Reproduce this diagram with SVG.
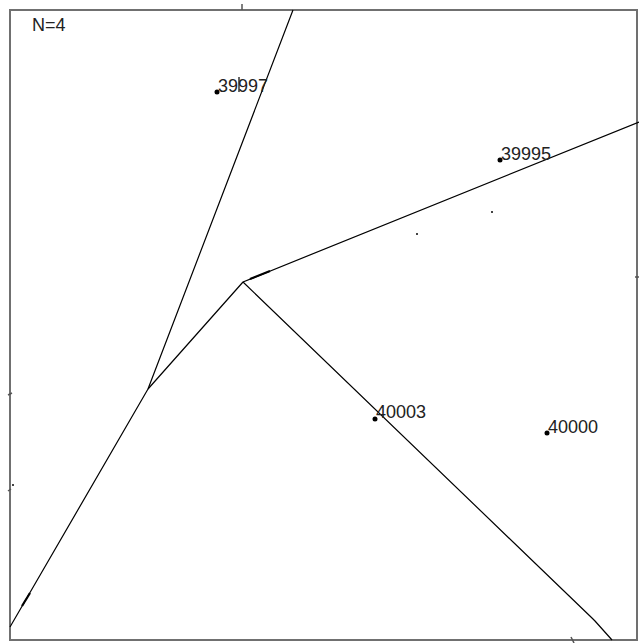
<svg xmlns="http://www.w3.org/2000/svg" width="639" height="643" viewBox="0 0 639 643">
<style>
.frame{fill:none;stroke:#707070;stroke-width:2}
.tick{stroke:#555;stroke-width:1.5}
.edge{fill:none;stroke:#000;stroke-width:1.2;stroke-linejoin:round}
.lbl{font-family:"Liberation Sans",Arial,sans-serif;font-size:18px;fill:#222}
.dot{fill:#000}
.speck{fill:#444}
</style>
<rect width="639" height="643" fill="#fff"/>
<rect class="frame" x="10" y="10" width="627" height="630"/>
<g id="ticks">
<line class="tick" x1="242" y1="4" x2="242" y2="10"/>
<line class="tick" x1="635" y1="277" x2="639" y2="277"/>
<line class="tick" x1="8" y1="395" x2="12" y2="393"/>
<line class="tick" x1="8" y1="491" x2="11" y2="489"/>
<line class="tick" x1="571" y1="637" x2="574" y2="643"/>
</g>
<text class="lbl" x="32" y="31">N=4</text>
<g id="connectors">
<polyline class="edge" points="293,10 148,389 10,627"/>
<polyline class="edge" points="148,389 243,282 639,122"/>
<polyline class="edge" points="243,282 592,618 595,621 612,640"/>
<line x1="250" y1="279" x2="270" y2="271" stroke="#000" stroke-width="2.2"/>
<line x1="22" y1="606" x2="30" y2="593" stroke="#000" stroke-width="2.2"/>
<line x1="239" y1="77" x2="239" y2="92" stroke="#000" stroke-width="1.2"/>
</g>
<g id="n39997"><circle class="dot" cx="217" cy="92" r="2.5"/><text class="lbl" x="218" y="92">39997</text></g>
<g id="n39995"><circle class="dot" cx="500" cy="160" r="2.5"/><text class="lbl" x="501" y="160">39995</text></g>
<g id="n40003"><circle class="dot" cx="375" cy="419" r="2.5"/><text class="lbl" x="376" y="418">40003</text></g>
<g id="n40000"><circle class="dot" cx="547" cy="433" r="2.5"/><text class="lbl" x="548" y="433">40000</text></g>
<g id="specks">
<rect class="speck" x="416" y="233" width="2" height="2"/>
<rect class="speck" x="491" y="211" width="2" height="2"/>
<rect class="speck" x="12" y="484" width="2" height="2"/>
</g>
</svg>
